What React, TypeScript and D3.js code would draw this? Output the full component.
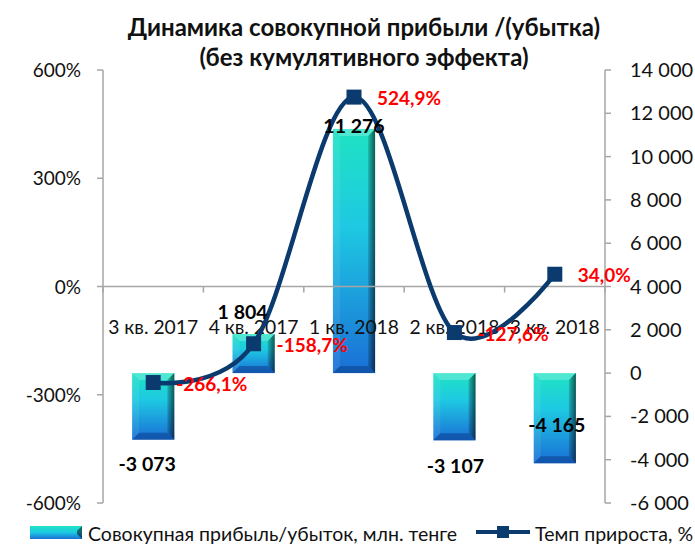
import React from 'react';
import * as d3 from 'd3';

// data
const categories = ['3 кв. 2017', '4 кв. 2017', '1 кв. 2018', '2 кв. 2018', '3 кв. 2018'];
const profit = [-3073, 1804, 11276, -3107, -4165];
const growth = [-266.1, -158.7, 524.9, -127.6, 34.0];
const profitLabels = ['-3 073', '1 804', '11 276', '-3 107', '-4 165'];
const growthLabels = ['-266,1%', '-158,7%', '524,9%', '-127,6%', '34,0%'];
const leftTicks = [-600, -300, 0, 300, 600];
const rightTicks = [-6000, -4000, -2000, 0, 2000, 4000, 6000, 8000, 10000, 12000, 14000];
// where Excel put the bar value labels (dx from bar centre, dy from bar end)
const profitLabelNudge = [[-6, 31], [-11, -15], [0, 4], [1, 33], [2, -31]];

const W = 695;
const H = 544;
const FONT = "Lato, 'Noto Sans', sans-serif";
const NAVY = '#0a3a6e';
const AXIS = '#a6a6a6';

const fmtRight = (v: number) => {
  const s = Math.abs(v).toString().replace(/\B(?=(\d{3})+(?!\d))/g, ' ');
  return (v < 0 ? '-' : '') + s;
};

const Bar = ({ x, y, w, h }: { x: number; y: number; w: number; h: number }) => {
  const b = Math.min(7, h / 3, w / 4);
  return (
    <g>
      <rect x={x} y={y} width={w} height={h} fill="url(#barGrad)" />
      <polygon points={`${x},${y} ${x + w},${y} ${x + w - b},${y + b} ${x + b},${y + b}`} fill="#ffffff" opacity={0.22} />
      <polygon points={`${x},${y} ${x + b},${y + b} ${x + b},${y + h - b} ${x},${y + h}`} fill="#ffffff" opacity={0.08} />
      <polygon points={`${x + w},${y} ${x + w},${y + h} ${x + w - b},${y + h - b} ${x + w - b},${y + b}`} fill="url(#rightBevel)" />
      <polygon points={`${x},${y + h} ${x + w},${y + h} ${x + w - b},${y + h - b} ${x + b},${y + h - b}`} fill="#0b3f8c" opacity={0.55} />
    </g>
  );
};

export default function App() {
  const x0 = 103;
  const x1 = 605;
  const yTop = 70;
  const yBot = 503;

  const x = d3.scaleBand<string>().domain(categories).range([x0, x1]).paddingInner(0.58).paddingOuter(0.29);
  const step = x.step();
  const bw = x.bandwidth();
  const cx = (c: string) => (x(c) as number) + bw / 2;

  const yL = d3.scaleLinear().domain([-600, 600]).range([yBot, yTop]);
  const yR = d3.scaleLinear().domain([-6000, 14000]).range([yBot, yTop]);

  const pts: [number, number][] = categories.map((c, i) => [cx(c), yL(growth[i])]);
  const line = d3.line().curve(d3.curveCatmullRom.alpha(0))(pts) as string;

  const axisY = yL(0);

  return (
    <svg width={W} height={H} style={{ position: 'absolute', left: 0, top: 0 }} fontFamily={FONT}>
      <defs>
        <linearGradient id="barGrad" x1="0" y1="0" x2="0" y2="1">
          <stop offset="0" stopColor="#1fe3c3" />
          <stop offset="0.4" stopColor="#1ec9e2" />
          <stop offset="1" stopColor="#1a6fd6" />
        </linearGradient>
        <linearGradient id="rightBevel" x1="0" y1="0" x2="1" y2="0">
          <stop offset="0" stopColor="#000" stopOpacity={0.15} />
          <stop offset="1" stopColor="#000" stopOpacity={0.6} />
        </linearGradient>
        <linearGradient id="legendGrad" x1="0" y1="0" x2="0" y2="1">
          <stop offset="0" stopColor="#1fe3c3" />
          <stop offset="0.5" stopColor="#1ec9e2" />
          <stop offset="1" stopColor="#1a6fd6" />
        </linearGradient>
      </defs>
      <rect width={W} height={H} fill="#fff" />

      {/* title */}
      <text x={364} y={36} textAnchor="middle" fontSize={24} fontWeight="bold" fill="#111">
        Динамика совокупной прибыли /(убытка)
      </text>
      <text x={364} y={66} textAnchor="middle" fontSize={24} fontWeight="bold" fill="#111">
        (без кумулятивного эффекта)
      </text>

      {/* left axis */}
      <line x1={x0} x2={x0} y1={yTop} y2={yBot} stroke={AXIS} strokeWidth={1.5} />
      {leftTicks.map((t) => (
        <g key={t}>
          <line x1={x0 - 6} x2={x0} y1={yL(t)} y2={yL(t)} stroke={AXIS} strokeWidth={1.5} />
          <text x={81} y={yL(t) + 7} textAnchor="end" fontSize={19} fill="#111">{t}%</text>
        </g>
      ))}

      {/* right axis */}
      <line x1={x1} x2={x1} y1={yTop} y2={yBot} stroke={AXIS} strokeWidth={1.5} />
      {rightTicks.map((t) => (
        <g key={t}>
          <line x1={x1} x2={x1 + 6} y1={yR(t)} y2={yR(t)} stroke={AXIS} strokeWidth={1.5} />
          <text x={630} y={yR(t) + 7} fontSize={20} fill="#111">{fmtRight(t)}</text>
        </g>
      ))}

      {/* bars */}
      {categories.map((c, i) => {
        const v = profit[i];
        const yA = yR(Math.max(0, v));
        const yB = yR(Math.min(0, v));
        return <Bar key={c} x={x(c) as number} y={yA} w={bw} h={yB - yA} />;
      })}

      {/* category axis */}
      <line x1={x0} x2={x1} y1={axisY} y2={axisY} stroke={AXIS} strokeWidth={1.5} />
      {d3.range(categories.length + 1).map((i) => (
        <line key={i} x1={x0 + i * step} x2={x0 + i * step} y1={axisY} y2={axisY + 6} stroke={AXIS} strokeWidth={1.5} />
      ))}
      {categories.map((c) => (
        <text key={c} x={cx(c)} y={334} textAnchor="middle" fontSize={19.3} fill="#111">{c}</text>
      ))}

      {/* growth line */}
      <path d={line} fill="none" stroke={NAVY} strokeWidth={4.5} strokeLinecap="round" />
      {pts.map(([px, py], i) => (
        <rect key={i} x={px - 7.5} y={py - 7.5} width={15} height={15} fill={NAVY} />
      ))}

      {/* bar value labels */}
      {categories.map((c, i) => {
        const v = profit[i];
        const yEnd = yR(v);
        const [dx, dy] = profitLabelNudge[i];
        return (
          <text key={c} x={cx(c) + dx} y={yEnd + dy} textAnchor="middle" fontSize={19.5} fontWeight="bold" fill="#000">
            {profitLabels[i]}
          </text>
        );
      })}

      {/* growth labels */}
      {pts.map(([px, py], i) => (
        <text key={i} x={px + 23} y={py + 8} fontSize={19} fontWeight="bold" fill="#ff0000">
          {growthLabels[i]}
        </text>
      ))}

      {/* legend */}
      <g>
        <rect x={30} y={526} width={52} height={13} fill="url(#legendGrad)" />
        <polygon points="82,526 82,539 77,534 77,531" fill="#000" opacity={0.5} />
        <text x={88} y={541} fontSize={19.5} fill="#111">Совокупная прибыль/убыток, млн. тенге</text>
        <line x1={476} x2={530} y1={532} y2={532} stroke={NAVY} strokeWidth={4} />
        <rect x={497} y={526} width={12} height={12} fill={NAVY} />
        <text x={535} y={541} fontSize={19.5} fill="#111">Темп прироста, %</text>
      </g>
    </svg>
  );
}
